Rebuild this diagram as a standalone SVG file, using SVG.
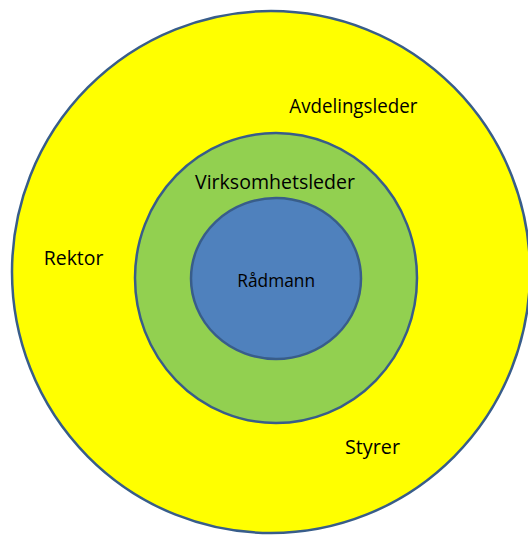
<svg xmlns="http://www.w3.org/2000/svg" width="528" height="536" viewBox="0 0 528 536">
  <style>
    .ring { stroke: #385D8A; stroke-width: 2.5; }
    .lbl { font-family: "Open Sans", "Liberation Sans", sans-serif; font-size: 19.2px; fill: #000000; }
    .lbl-sm { font-family: "Open Sans", "Liberation Sans", sans-serif; font-size: 18px; fill: #000000; }
  </style>
  <rect width="528" height="536" fill="#FFFFFF"/>
  <g id="outer">
    <ellipse class="ring" cx="271" cy="272" rx="259" ry="261" fill="#FFFF00"/>
    <text class="lbl" x="289.3" y="112.7" textLength="128" lengthAdjust="spacingAndGlyphs">Avdelingsleder</text>
    <text class="lbl" x="43.8" y="265.3" textLength="59.6" lengthAdjust="spacingAndGlyphs">Rektor</text>
    <text class="lbl" x="345" y="453.5" textLength="55" lengthAdjust="spacingAndGlyphs">Styrer</text>
  </g>
  <g id="middle">
    <ellipse class="ring" cx="276" cy="278" rx="141" ry="145" fill="#92D050"/>
    <text class="lbl" x="195" y="189.3" textLength="160" lengthAdjust="spacingAndGlyphs">Virksomhetsleder</text>
  </g>
  <g id="inner">
    <ellipse class="ring" cx="276" cy="278.5" rx="85" ry="80.5" fill="#4F81BD"/>
    <text class="lbl-sm" x="237.3" y="286.7" textLength="77.7" lengthAdjust="spacingAndGlyphs">Rådmann</text>
  </g>
  <g id="connectors"/>
</svg>
